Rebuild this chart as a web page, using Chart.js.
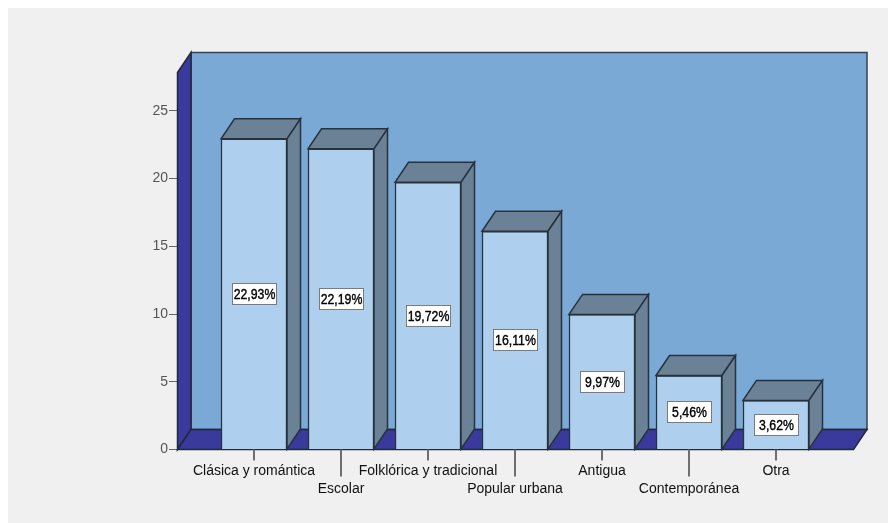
<!DOCTYPE html>
<html>
<head>
<meta charset="utf-8">
<style>
  html, body { margin: 0; padding: 0; background: #fff; }
  canvas { display: block; }
</style>
<script src="https://cdn.jsdelivr.net/npm/chart.js@4"></script>
</head>
<body>
<canvas id="grafico" width="888" height="523"></canvas>
<script>
const categorias = ['Clásica y romántica', 'Escolar', 'Folklórica y tradicional', 'Popular urbana', 'Antigua', 'Contemporánea', 'Otra'];
const porcentajes = [22.93, 22.19, 19.72, 16.11, 9.97, 5.46, 3.62];
const marcasY = [0, 5, 10, 15, 20, 25];

const fuente = '"Liberation Sans", Arial, sans-serif';
const dx = 13.5, dy = -20; // profundidad del efecto 3D

function poligono(ctx, puntos, relleno, borde) {
    ctx.beginPath();
    puntos.forEach((p, i) => i ? ctx.lineTo(p[0], p[1]) : ctx.moveTo(p[0], p[1]));
    ctx.closePath();
    ctx.fillStyle = relleno;
    ctx.fill();
    ctx.strokeStyle = borde;
    ctx.lineWidth = 1.5;
    ctx.stroke();
}

const fondo3D = {
    id: 'fondo3D',
    beforeDraw(chart) {
        const { ctx } = chart;
        ctx.save();
        ctx.fillStyle = '#f0f0f0';
        ctx.fillRect(8, 8, 880, 515);
        ctx.restore();
    },
    beforeDatasetsDraw(chart) {
        const { ctx, chartArea: a, scales } = chart;
        const l = a.left + 0.5, r = a.right + 0.5, t = a.top + 0.5, b = a.bottom;
        ctx.save();
        // pared del fondo
        poligono(ctx, [[l + dx, t + dy], [r + dx, t + dy], [r + dx, b + dy], [l + dx, b + dy]], '#7aa9d6', '#33424f');
        // pared lateral
        poligono(ctx, [[l, t], [l + dx, t + dy], [l + dx, b + dy], [l, b]], '#3a3a9c', '#1f2a3a');
        // piso
        poligono(ctx, [[l, b], [l + dx, b + dy], [r + dx, b + dy], [r, b]], '#3a3a9c', '#1f2a3a');
        // marcas del eje x, alternando largo para los rótulos en dos filas
        ctx.strokeStyle = '#6e6e6e';
        ctx.lineWidth = 2;
        scales.x.ticks.forEach((tick, i) => {
            const x = Math.round(scales.x.getPixelForValue(tick.value));
            ctx.beginPath();
            ctx.moveTo(x, b);
            ctx.lineTo(x, b + (i % 2 ? 27 : 11));
            ctx.stroke();
        });
        ctx.restore();
    },
    afterDatasetsDraw(chart) {
        const { ctx } = chart;
        ctx.save();
        chart.getDatasetMeta(0).data.forEach((barra, i) => {
            const izq = barra.x - barra.width / 2, der = barra.x + barra.width / 2;
            const arriba = barra.y, abajo = barra.base;
            // cara superior y cara lateral
            poligono(ctx, [[izq, arriba], [izq + dx, arriba + dy], [der + dx, arriba + dy], [der, arriba]], '#6b8196', '#26323d');
            poligono(ctx, [[der, arriba], [der + dx, arriba + dy], [der + dx, abajo + dy], [der, abajo]], '#6b8196', '#26323d');
            // etiqueta de porcentaje
            const medio = Math.round((arriba + abajo) / 2);
            const cx = Math.round(barra.x);
            ctx.fillStyle = '#fff';
            ctx.strokeStyle = '#7b7b7b';
            ctx.lineWidth = 1;
            ctx.fillRect(cx - 22, medio - 11, 45, 22);
            ctx.strokeRect(cx - 22 + 0.5, medio - 11 + 0.5, 44, 21);
            // texto angostado y algo más grueso, como en el original
            ctx.save();
            ctx.translate(cx + 0.5, medio + 1);
            ctx.scale(0.82, 1);
            ctx.fillStyle = '#000';
            ctx.strokeStyle = '#000';
            ctx.lineWidth = 0.4;
            ctx.font = '15px ' + fuente;
            ctx.textAlign = 'center';
            ctx.textBaseline = 'middle';
            const texto = porcentajes[i].toFixed(2).replace('.', ',') + '%';
            ctx.fillText(texto, 0, 0);
            ctx.strokeText(texto, 0, 0);
            ctx.restore();
        });
        ctx.restore();
    }
};

new Chart(document.getElementById('grafico').getContext('2d'), {
    type: 'bar',
    data: {
        datasets: [{
            data: porcentajes.map((v, i) => ({ x: i, y: v })),
            backgroundColor: '#aed0ee',
            borderColor: '#26323d',
            borderWidth: 1.5,
            barThickness: 66
        }]
    },
    options: {
        responsive: false,
        animation: false,
        layout: { padding: { top: 72, right: 35, left: 0, bottom: 0 } },
        plugins: { legend: { display: false }, tooltip: { enabled: false } },
        scales: {
            x: {
                type: 'linear',
                offset: false,
                min: -0.885,
                max: 6.885,
                grid: { display: false },
                border: { display: false },
                afterBuildTicks: scale => { scale.ticks = categorias.map((c, i) => ({ value: i })); },
                afterFit: scale => { scale.height = 73.5; },
                ticks: {
                    autoSkip: false,
                    maxRotation: 0,
                    minRotation: 0,
                    padding: 5,
                    color: '#111',
                    font: { family: fuente, size: 14, lineHeight: 1.29 },
                    // rótulos en dos filas alternadas
                    callback: value => value % 2 ? ['', categorias[value]] : [categorias[value], '']
                }
            },
            y: {
                min: 0,
                max: 27.86,
                grid: { drawOnChartArea: false, color: '#666', tickLength: 8 },
                border: { display: false },
                afterBuildTicks: scale => { scale.ticks = marcasY.map(v => ({ value: v })); },
                afterFit: scale => { scale.width = 177; },
                ticks: {
                    padding: 1,
                    color: '#555',
                    font: { family: fuente, size: 14 }
                }
            }
        }
    },
    plugins: [fondo3D]
});
</script>
</body>
</html>
